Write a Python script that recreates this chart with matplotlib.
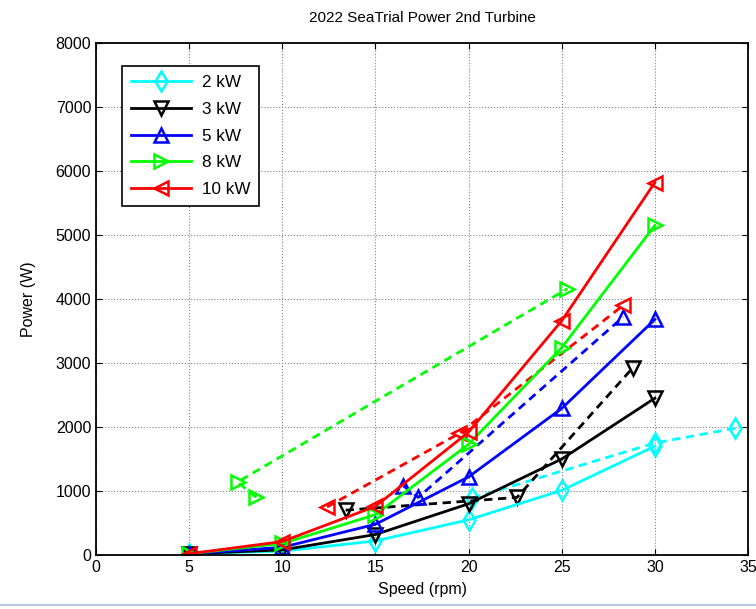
import matplotlib
matplotlib.use("Agg")
import matplotlib.pyplot as plt
from matplotlib.lines import Line2D

plt.rcParams["font.family"] = ["Liberation Sans", "DejaVu Sans"]

# solid curves: measured at nominal speeds
speed = [5, 10, 15, 20, 25, 30]
p_2kw = [20, 60, 220, 550, 1010, 1700]
p_3kw = [20, 80, 320, 800, 1500, 2450]
p_5kw = [20, 120, 480, 1220, 2290, 3680]
p_8kw = [20, 180, 630, 1730, 3240, 5150]
p_10kw = [20, 210, 760, 1920, 3660, 5820]

# dashed curves: sea trial points
sea_2kw_x = [20.2, 30, 34.3]
sea_2kw_y = [890, 1750, 1980]
sea_3kw_x = [13.4, 22.6, 28.8]
sea_3kw_y = [700, 900, 2920]
sea_5kw_x = [16.5, 17.3, 28.3]
sea_5kw_y = [1080, 900, 3720]
sea_8kw_x = [8.6, 7.6, 25.3]
sea_8kw_y = [900, 1140, 4160]
sea_10kw_x = [12.4, 19.5, 28.3]
sea_10kw_y = [750, 1900, 3900]

labels = ["2 kW", "3 kW", "5 kW", "8 kW", "10 kW"]
colors = ["#00ffff", "black", "#0000ff", "#00ff00", "#ff0000"]
markers = ["d", "v", "^", ">", "<"]

fig = plt.figure(figsize=(7.56, 6.09), dpi=100)
ax = fig.add_axes([96 / 756, 1 - 555 / 609, (748 - 96) / 756, (555 - 43) / 609])

solid = [p_2kw, p_3kw, p_5kw, p_8kw, p_10kw]
dashed = [(sea_2kw_x, sea_2kw_y), (sea_3kw_x, sea_3kw_y), (sea_5kw_x, sea_5kw_y),
          (sea_8kw_x, sea_8kw_y), (sea_10kw_x, sea_10kw_y)]

style = dict(lw=2.0, ms=10, mew=1.8, mfc="none")
for (dx, dy), c, m in zip(dashed, colors, markers):
    ax.plot(dx, dy, color=c, marker=m, ls=(0, (3, 2)), **style)
for y, c, m, lab in zip(solid, colors, markers, labels):
    ax.plot(speed, y, color=c, marker=m, ls="-", label=lab, **style)

ax.set_xlim(0, 35)
ax.set_ylim(0, 8000)
ax.set_xticks(range(0, 36, 5))
ax.set_yticks(range(0, 8001, 1000))
ax.grid(True, ls=":", color="#808080", lw=0.8)
ax.tick_params(direction="in", top=True, right=True, labelsize=11.5, length=4)
for s in ax.spines.values():
    s.set_linewidth(1.3)

ax.set_title("2022 SeaTrial Power 2nd Turbine", fontsize=11, pad=15)
ax.set_xlabel("Speed (rpm)", fontsize=11.5, labelpad=5)
ax.set_ylabel("Power (W)", fontsize=11.5, labelpad=14)

leg = ax.legend(loc="upper left", bbox_to_anchor=(0.04, 0.955), fontsize=12.3,
                handlelength=3.5, labelspacing=0.68, fancybox=False, framealpha=1,
                borderpad=0.55, handletextpad=0.6, borderaxespad=0)
leg.get_frame().set_edgecolor("black")
leg.get_frame().set_linewidth(1.2)

fig.add_artist(Line2D([0, 1], [4 / 609, 4 / 609], color="#a8bcd8", lw=1.2,
                      transform=fig.transFigure))

fig.savefig("out.png", dpi=100)
